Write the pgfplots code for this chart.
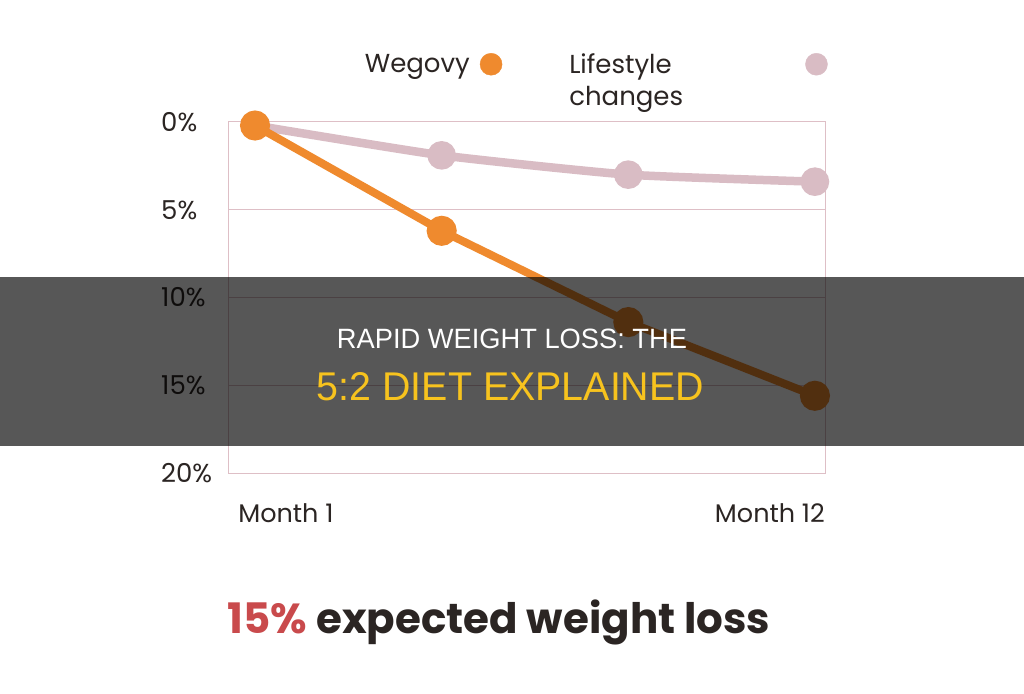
\documentclass[border=0pt]{standalone}
\usepackage{pgfplots}
\pgfplotsset{compat=1.18}
\usepackage{fontspec}
\setmainfont{Poppins}
\newfontfamily\condfont{Liberation Sans}
\definecolor{wegovy}{HTML}{EF8A2E}
\definecolor{life}{HTML}{D9BCC4}
\definecolor{gridc}{HTML}{DEBFC6}
\definecolor{txt}{HTML}{2B2523}
\definecolor{redt}{HTML}{C94A4C}
\definecolor{yel}{HTML}{F7C31E}
\begin{document}
\begin{tikzpicture}
\useasboundingbox[fill=white] (0pt,0pt) rectangle (1024pt,693pt);
\begin{axis}[
  at={(228pt,220pt)}, anchor=south west,
  scale only axis, width=597pt, height=351pt,
  xmin=-0.145, xmax=3.054, ymin=0, ymax=20, y dir=reverse,
  xtick=\empty, ytick={0,5,10,15,20},
  yticklabels={0\%,5\%,10\%,15\%,20\%},
  yticklabel style={anchor=west, xshift=-67pt, font=\fontsize{26}{28}\selectfont, text=txt, inner sep=0pt},
  ymajorgrids, major grid style={gridc, line width=1pt},
  axis line style={gridc, line width=1pt},
  major tick length=0pt,
  legend plot pos=right,
  legend columns=2,
  legend style={at={(axis description cs:0.229,1.197)}, anchor=north west, draw=none, fill=none,
    font=\fontsize{26}{32}\selectfont, text=txt, inner sep=0pt, column sep=0pt,
    nodes={inner sep=0pt}},
  clip=false,
]
\addlegendimage{legend image code/.code={\path (0pt,0pt); \fill[wegovy] (21pt,0pt) circle (11pt); \path (99pt,0pt);}}
\addlegendentry{Wegovy}
\addlegendimage{legend image code/.code={\path (0pt,0pt); \fill[life] (10pt,0pt) circle (11pt);}}
\addlegendentry{\parbox[t]{236pt}{Lifestyle\\changes}}
\addplot[life, line width=8.5pt, mark=*, mark size=10pt, mark options={draw=none, fill=life}, smooth, tension=0.3, forget plot]
  coordinates {(0,0.2) (1,1.9) (2,3.0) (3,3.4)};
\addplot[wegovy, line width=8pt, mark=*, mark size=11pt, mark options={draw=none, fill=wegovy}, forget plot]
  coordinates {(0,0.2) (1,6.2) (2,11.4) (3,15.6)};
\node[anchor=base west, inner sep=0pt, text=txt, font=\fontsize{25.5}{28}\selectfont] at (axis description cs:0.017,-0.142) {Month 1};
\node[anchor=base east, inner sep=0pt, text=txt, font=\fontsize{25.5}{28}\selectfont] at (axis description cs:1.0,-0.142) {Month 12};
\end{axis}
\fill[black, opacity=0.66] (0pt,247pt) rectangle (1024pt,416pt);
\node[inner sep=0pt, text=white] at (512pt,354.5pt) {\resizebox{350pt}{19.5pt}{\condfont RAPID WEIGHT LOSS: THE}};
\node[inner sep=0pt, text=yel] at (510.5pt,306pt) {\resizebox{387pt}{28pt}{\condfont 5:2 DIET EXPLAINED}};
\node[anchor=base, inner sep=0pt, font=\fontsize{42}{48}\selectfont\bfseries] at (499pt,60pt) {\textcolor{redt}{15\%} \textcolor{txt}{expected weight loss}};
\end{tikzpicture}
\end{document}
